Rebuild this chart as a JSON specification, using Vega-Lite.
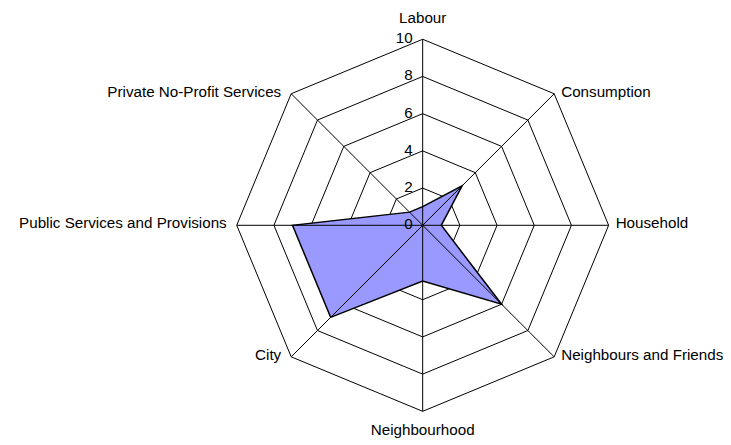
{
  "$schema": "https://vega.github.io/schema/vega-lite/v6.json",
  "width": 731,
  "height": 445,
  "autosize": "none",
  "padding": 0,
  "background": "white",
  "config": {"view": {"stroke": null}, "text": {"font": "Liberation Sans", "fontSize": 15.2, "color": "black"}},
  "datasets": {
    "axes": [
      {"axis": "Labour", "i": 0, "value": 1},
      {"axis": "Consumption", "i": 1, "value": 3},
      {"axis": "Household", "i": 2, "value": 1},
      {"axis": "Neighbours and Friends", "i": 3, "value": 6},
      {"axis": "Neighbourhood", "i": 4, "value": 3},
      {"axis": "City", "i": 5, "value": 7},
      {"axis": "Public Services and Provisions", "i": 6, "value": 7},
      {"axis": "Private No-Profit Services", "i": 7, "value": 1}
    ],
    "rings": [{"ring": 2}, {"ring": 4}, {"ring": 6}, {"ring": 8}, {"ring": 10}],
    "ticks": [{"t": 0}, {"t": 2}, {"t": 4}, {"t": 6}, {"t": 8}, {"t": 10}]
  },
  "layer": [
    {
      "data": {"name": "rings"},
      "transform": [
        {"calculate": "[0,1,2,3,4,5,6,7]", "as": "idx"},
        {"flatten": ["idx"]},
        {"calculate": "datum.ring*sin(datum.idx*PI/4)", "as": "x"},
        {"calculate": "datum.ring*cos(datum.idx*PI/4)", "as": "y"}
      ],
      "mark": {"type": "line", "interpolate": "linear-closed", "stroke": "black", "strokeWidth": 1},
      "encoding": {
        "x": {"field": "x", "type": "quantitative", "scale": {"domain": [-22.73, 16.58], "nice": false, "zero": false}, "axis": null},
        "y": {"field": "y", "type": "quantitative", "scale": {"domain": [-11.81, 12.11], "nice": false, "zero": false}, "axis": null},
        "detail": {"field": "ring", "type": "nominal"},
        "order": {"field": "idx", "type": "quantitative"}
      }
    },
    {
      "data": {"name": "axes"},
      "transform": [
        {"calculate": "datum.value*sin(datum.i*PI/4)", "as": "x"},
        {"calculate": "datum.value*cos(datum.i*PI/4)", "as": "y"}
      ],
      "mark": {"type": "line", "interpolate": "linear-closed", "fill": "#9999ff", "stroke": "black", "strokeWidth": 1.5},
      "encoding": {
        "x": {"field": "x", "type": "quantitative"},
        "y": {"field": "y", "type": "quantitative"},
        "order": {"field": "i", "type": "quantitative"}
      }
    },
    {
      "data": {"name": "axes"},
      "transform": [
        {"calculate": "10*sin(datum.i*PI/4)", "as": "x"},
        {"calculate": "10*cos(datum.i*PI/4)", "as": "y"},
        {"calculate": "0", "as": "ox"},
        {"calculate": "0", "as": "oy"}
      ],
      "mark": {"type": "rule", "stroke": "black", "strokeWidth": 1},
      "encoding": {
        "x": {"field": "x", "type": "quantitative"},
        "y": {"field": "y", "type": "quantitative"},
        "x2": {"field": "ox"},
        "y2": {"field": "oy"}
      }
    },
    {
      "data": {"name": "ticks"},
      "transform": [{"calculate": "0", "as": "x"}],
      "mark": {"type": "text", "align": "right", "baseline": "middle", "dx": -10, "dy": -1},
      "encoding": {
        "x": {"field": "x", "type": "quantitative"},
        "y": {"field": "t", "type": "quantitative"},
        "text": {"field": "t", "type": "quantitative"}
      }
    },
    {
      "data": {"name": "axes"},
      "transform": [
        {"filter": "datum.i == 0"},
        {"calculate": "0", "as": "x"},
        {"calculate": "10", "as": "y"}
      ],
      "mark": {"type": "text", "align": "center", "baseline": "alphabetic", "dy": -16},
      "encoding": {
        "x": {"field": "x", "type": "quantitative"},
        "y": {"field": "y", "type": "quantitative"},
        "text": {"field": "axis", "type": "nominal"}
      }
    },
    {
      "data": {"name": "axes"},
      "transform": [
        {"filter": "datum.i == 4"},
        {"calculate": "0", "as": "x"},
        {"calculate": "-10", "as": "y"}
      ],
      "mark": {"type": "text", "align": "center", "baseline": "alphabetic", "dy": 24},
      "encoding": {
        "x": {"field": "x", "type": "quantitative"},
        "y": {"field": "y", "type": "quantitative"},
        "text": {"field": "axis", "type": "nominal"}
      }
    },
    {
      "data": {"name": "axes"},
      "transform": [
        {"filter": "datum.i >= 1 && datum.i <= 3"},
        {"calculate": "10*sin(datum.i*PI/4)", "as": "x"},
        {"calculate": "10*cos(datum.i*PI/4)", "as": "y"}
      ],
      "mark": {"type": "text", "align": "left", "baseline": "middle", "dx": 7, "dy": -2},
      "encoding": {
        "x": {"field": "x", "type": "quantitative"},
        "y": {"field": "y", "type": "quantitative"},
        "text": {"field": "axis", "type": "nominal"}
      }
    },
    {
      "data": {"name": "axes"},
      "transform": [
        {"filter": "datum.i >= 5"},
        {"calculate": "10*sin(datum.i*PI/4)", "as": "x"},
        {"calculate": "10*cos(datum.i*PI/4)", "as": "y"}
      ],
      "mark": {"type": "text", "align": "right", "baseline": "middle", "dx": -10, "dy": -2},
      "encoding": {
        "x": {"field": "x", "type": "quantitative"},
        "y": {"field": "y", "type": "quantitative"},
        "text": {"field": "axis", "type": "nominal"}
      }
    }
  ]
}
